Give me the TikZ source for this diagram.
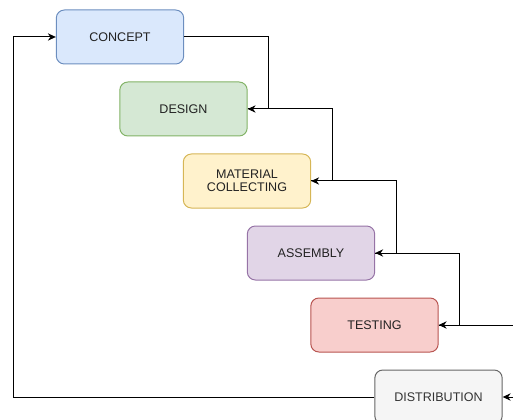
\documentclass[tikz,border=0pt]{standalone}
\usepackage{fontspec}
\setmainfont{Liberation Sans}
\usetikzlibrary{arrows.meta}

\definecolor{bluefill}{HTML}{DAE8FC}\definecolor{bluedraw}{HTML}{6C8EBF}
\definecolor{greenfill}{HTML}{D5E8D4}\definecolor{greendraw}{HTML}{82B366}
\definecolor{yellowfill}{HTML}{FFF2CC}\definecolor{yellowdraw}{HTML}{D6B656}
\definecolor{purplefill}{HTML}{E1D5E7}\definecolor{purpledraw}{HTML}{9673A6}
\definecolor{redfill}{HTML}{F8CECC}\definecolor{reddraw}{HTML}{B85450}
\definecolor{grayfill}{HTML}{F5F5F5}\definecolor{graydraw}{HTML}{666666}
\definecolor{labeltext}{HTML}{222222}
\definecolor{graytext}{HTML}{333333}

\begin{document}
\begin{tikzpicture}[
  x=0.75pt, y=-0.75pt,
  stage/.style={draw, rounded corners=6pt, line width=0.75pt,
    minimum width=95.5pt, minimum height=40.5pt, inner sep=0pt,
    align=center, text=labeltext,
    font=\fontsize{9.4}{9.9}\selectfont},
  link/.style={draw, line width=0.75pt,
    -{Stealth[length=6pt,width=5.5pt]}}
]
\useasboundingbox (0,0) rectangle (513,420);
\clip (0,0) rectangle (513,420);

% process stages
\node[stage, fill=bluefill, draw=bluedraw]     (concept)  at (120,37)    {CONCEPT};
\node[stage, fill=greenfill, draw=greendraw]   (design)   at (183.5,109) {DESIGN};
\node[stage, fill=yellowfill, draw=yellowdraw] (material) at (247,181)   {MATERIAL\\COLLECTING};
\node[stage, fill=purplefill, draw=purpledraw] (assembly) at (311,253)   {ASSEMBLY};
\node[stage, fill=redfill, draw=reddraw]       (testing)  at (374.5,325) {TESTING};
\node[stage, fill=grayfill, draw=graydraw, text=graytext] (distribution) at (438.5,397) {DISTRIBUTION};

% stage-to-stage links
\draw[link] (concept.east)  -- ++(84,0) |- (design.east);
\draw[link] (design.east)   -- ++(85,0) |- (material.east);
\draw[link] (material.east) -- ++(85,0) |- (assembly.east);
\draw[link] (assembly.east) -- ++(84,0) |- (testing.east);
\draw[link] (testing.east)  -- ++(85,0) |- (distribution.east);
\draw[link] (distribution.west) -- ++(-361,0) |- (concept.west);
\end{tikzpicture}
\end{document}
